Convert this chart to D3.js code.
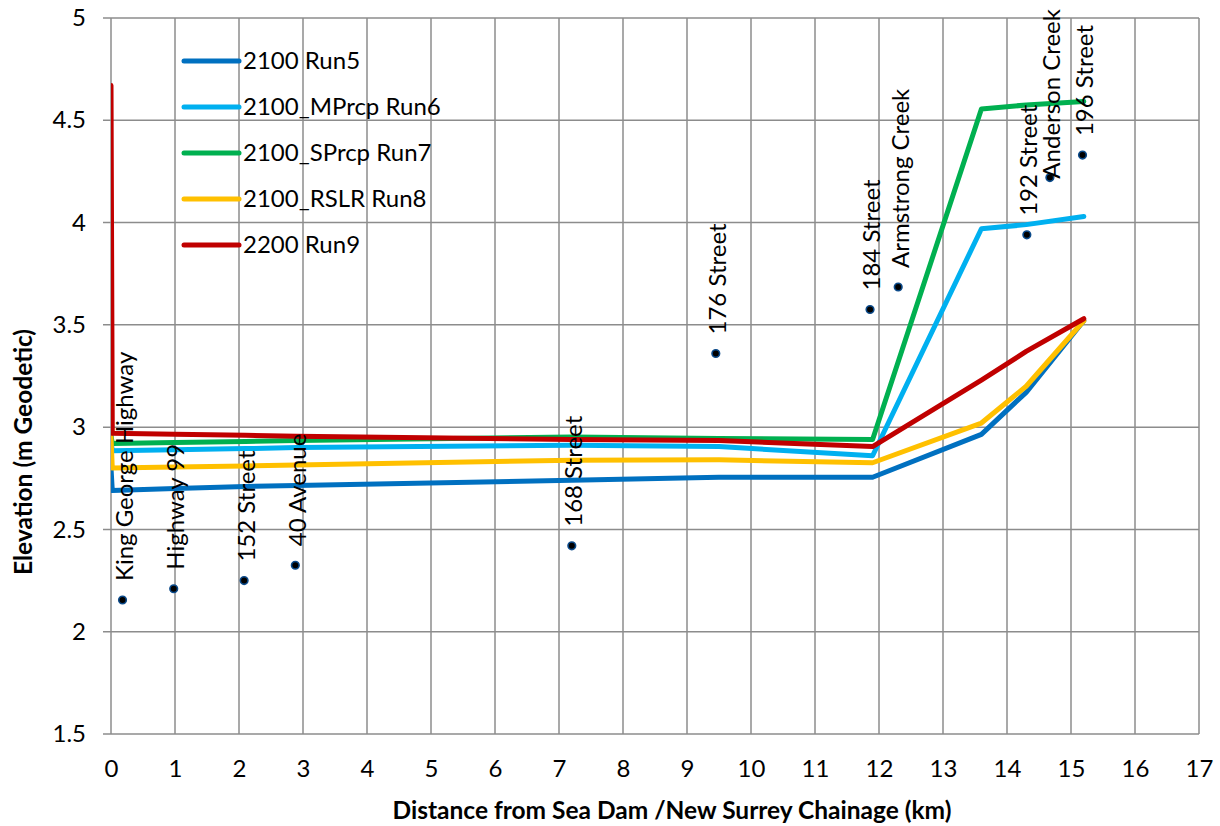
<!DOCTYPE html>
<html>
<head>
<meta charset="utf-8">
<script src="https://cdn.jsdelivr.net/npm/d3@7"></script>
<style>
  html, body { margin: 0; padding: 0; background: #fff; }
  svg { display: block; font-family: Lato, "Open Sans", sans-serif; }
</style>
</head>
<body>
<svg id="chart" width="1220" height="826"></svg>
<script>
// Chainage (km) at which the water-surface profiles are sampled
const chainage = [0, 0.02, 1.0, 2.1, 2.9, 7.2, 9.5, 11.9, 13.6, 14.3, 15.2];

// Water-surface elevation profiles (m Geodetic)
const run5 = [2.80, 2.69, 2.70, 2.71, 2.715, 2.74, 2.755, 2.755, 2.965, 3.17, 3.52];
const run6 = [2.93, 2.885, 2.89, 2.895, 2.90, 2.912, 2.905, 2.86, 3.97, 3.99, 4.03];
const run7 = [2.96, 2.92, 2.925, 2.93, 2.935, 2.952, 2.945, 2.94, 4.555, 4.575, 4.592];
const run8 = [2.95, 2.80, 2.805, 2.81, 2.815, 2.838, 2.84, 2.826, 3.02, 3.20, 3.52];
const run9 = [4.67, 2.97, 2.965, 2.96, 2.955, 2.94, 2.935, 2.905, 3.23, 3.37, 3.53];

const seriesNames = ["2100 Run5", "2100_MPrcp Run6", "2100_SPrcp Run7", "2100_RSLR Run8", "2200 Run9"];
const seriesColors = ["#0070c0", "#00b0f0", "#00b050", "#ffc000", "#c00000"];
const seriesValues = [run5, run6, run7, run8, run9];

// Road crossings and creeks along the channel
const landmarkNames = ["King George Highway", "Highway 99", "152 Street", "40 Avenue", "168 Street",
  "176 Street", "184 Street", "Armstrong Creek", "192 Street", "Anderson Creek", "196 Street"];
const landmarkKm = [0.18, 0.98, 2.08, 2.88, 7.2, 9.45, 11.86, 12.3, 14.31, 14.67, 15.18];
const landmarkElev = [2.155, 2.21, 2.25, 2.325, 2.42, 3.36, 3.575, 3.685, 3.94, 4.22, 4.33];

// Axis ticks
const xTicks = d3.range(0, 18, 1);
const yTicks = [1.5, 2, 2.5, 3, 3.5, 4, 4.5, 5];

const svg = d3.select("#chart");
const plotLeft = 111, plotRight = 1199, plotTop = 18, plotBottom = 734;
const fontSize = 24;

const x = d3.scaleLinear().domain([0, 17]).range([plotLeft, plotRight]);
const y = d3.scaleLinear().domain([1.5, 5]).range([plotBottom, plotTop]);

const gridColor = "#8c8c8c";

// Gridlines
const grid = svg.append("g");
grid.selectAll("line.h").data(yTicks).join("line")
  .attr("x1", plotLeft - 8).attr("x2", plotRight)
  .attr("y1", d => y(d)).attr("y2", d => y(d))
  .attr("stroke", gridColor).attr("stroke-width", 1.5);
grid.selectAll("line.v").data(xTicks).join("line")
  .attr("x1", d => x(d)).attr("x2", d => x(d))
  .attr("y1", plotTop).attr("y2", plotBottom)
  .attr("stroke", gridColor).attr("stroke-width", 1.5);

// Axes (labels only; lines are the grid)
const yAxis = d3.axisLeft(y).tickValues(yTicks).tickSize(0).tickPadding(0).tickFormat(d3.format("~g"));
const gy = svg.append("g").attr("transform", `translate(${plotLeft - 25},0)`).call(yAxis);
gy.select(".domain").remove();
gy.selectAll("text").attr("font-size", fontSize).attr("fill", "#000").attr("font-family", "Lato");

const xAxis = d3.axisBottom(x).tickValues(xTicks).tickSize(0).tickPadding(0).tickFormat(d3.format("d"));
const gx = svg.append("g").attr("transform", `translate(0,${plotBottom + 26})`).call(xAxis);
gx.select(".domain").remove();
gx.selectAll("text").attr("font-size", fontSize).attr("fill", "#000").attr("font-family", "Lato");

// Axis titles
svg.append("text")
  .attr("x", 672).attr("y", 810).attr("dy", "0.35em")
  .attr("text-anchor", "middle").attr("font-size", 24.5).attr("font-weight", "bold")
  .text("Distance from Sea Dam /New Surrey Chainage (km)");
svg.append("text")
  .attr("transform", "translate(23,452) rotate(-90)").attr("dy", "0.35em")
  .attr("text-anchor", "middle").attr("font-size", 24.5).attr("font-weight", "bold")
  .text("Elevation (m Geodetic)");

// Profiles, clipped to the plot area
svg.append("clipPath").attr("id", "plot-clip")
  .append("rect").attr("x", plotLeft).attr("y", plotTop)
  .attr("width", plotRight - plotLeft).attr("height", plotBottom - plotTop);

const line = d3.line().x((d, i) => x(chainage[i])).y(d => y(d));
svg.append("g").attr("clip-path", "url(#plot-clip)")
  .selectAll("path").data(seriesValues).join("path")
  .attr("d", d => line(d))
  .attr("fill", "none")
  .attr("stroke", (d, i) => seriesColors[i])
  .attr("stroke-width", 5)
  .attr("stroke-linejoin", "round")
  .attr("stroke-linecap", "round");

// Legend
const legend = svg.append("g");
seriesNames.forEach((name, i) => {
  const ly = 61 + i * 46;
  legend.append("line").attr("x1", 184).attr("x2", 239).attr("y1", ly).attr("y2", ly)
    .attr("stroke", seriesColors[i]).attr("stroke-width", 5).attr("stroke-linecap", "round");
  legend.append("text").attr("x", 243).attr("y", ly).attr("dy", "0.35em")
    .attr("font-size", fontSize).text(name);
});

// Landmark markers and labels; a label that would run off the top is pushed down
const marks = svg.append("g");
landmarkNames.forEach((name, i) => {
  const cx = x(landmarkKm[i]), cy = y(landmarkElev[i]);
  marks.append("circle").attr("cx", cx).attr("cy", cy).attr("r", 3.8)
    .attr("fill", "#000").attr("stroke", "#0b4a8a").attr("stroke-width", 1.6);
  const label = marks.append("text")
    .attr("dy", "0.35em").attr("font-size", fontSize).text(name);
  const len = label.node().getComputedTextLength();
  const start = Math.max(cy - 19, len + 9);
  label.attr("transform", `translate(${cx + 2},${start}) rotate(-90)`);
});
</script>
</body>
</html>
